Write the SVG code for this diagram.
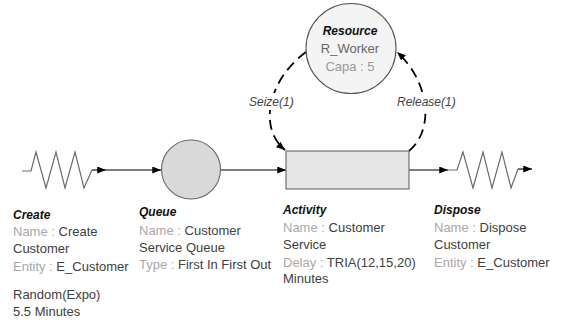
<svg xmlns="http://www.w3.org/2000/svg" width="561" height="327" viewBox="0 0 561 327">
<style>
text{font-family:"Liberation Sans",Arial,sans-serif;font-size:13px;fill:#404040}
.t{font-weight:bold;font-style:italic;font-size:12px;fill:#111}
.k{fill:#a8a8a8}
.lbl{font-style:italic;font-size:12px;fill:#444}
.zz{fill:none;stroke:#6a6a6a;stroke-width:1.2;stroke-linejoin:miter}
.ln{fill:none;stroke:#000;stroke-width:1.1}
.dash{fill:none;stroke:#000;stroke-width:1.8;stroke-dasharray:10 6}
</style>
<defs>
<marker id="ah" viewBox="0 0 10 8" refX="10" refY="4" markerWidth="9" markerHeight="7" markerUnits="userSpaceOnUse" orient="auto">
<path d="M0,0 L10,4 L0,8 z" fill="#000"/>
</marker>
</defs>
<g id="connectors">
<line class="ln" x1="106" y1="170" x2="161" y2="170" marker-end="url(#ah)"/>
<line class="ln" x1="220" y1="170" x2="286" y2="170" marker-end="url(#ah)"/>
<line class="ln" x1="409" y1="170" x2="448" y2="170" marker-end="url(#ah)"/>
<path class="dash" d="M306,52 C268,80 258,128 285,150" marker-end="url(#ah)"/>
<path class="dash" d="M409,151 C436,128 428,80 397,52" marker-end="url(#ah)"/>
<rect x="248" y="93" width="48" height="17" fill="#fff"/>
<text class="lbl" x="249" y="106">Seize(1)</text>
<rect x="396" y="93" width="61" height="17" fill="#fff"/>
<text class="lbl" x="397" y="106">Release(1)</text>
</g>
<g id="create">
<polyline class="zz" points="22,171 31,171 36,152 46,188 56,152 65,188 75,152 84,188 92,170"/>
<line class="ln" x1="92" y1="170" x2="106" y2="170" marker-end="url(#ah)"/>
<text class="t" x="13" y="219">Create</text>
<text x="13" y="235.5"><tspan class="k">Name : </tspan>Create</text>
<text x="13" y="253">Customer</text>
<text x="13" y="270.5"><tspan class="k">Entity : </tspan>E_Customer</text>
<text x="13" y="299">Random(Expo)</text>
<text x="13" y="316">5.5 Minutes</text>
</g>
<g id="queue">
<circle cx="191" cy="169.5" r="29.5" fill="#d9d9d9" stroke="#666" stroke-width="1.1"/>
<text class="t" x="139" y="216">Queue</text>
<text x="139" y="234.5"><tspan class="k">Name : </tspan>Customer</text>
<text x="139" y="251.5">Service Queue</text>
<text x="139" y="268.5"><tspan class="k">Type : </tspan>First In First Out</text>
</g>
<g id="resource">
<circle cx="351" cy="48.5" r="45" fill="#f4f4f4" stroke="#555" stroke-width="1.1"/>
<text class="t" x="350" y="35" text-anchor="middle">Resource</text>
<text x="350" y="53" text-anchor="middle" fill="#666" style="fill:#666">R_Worker</text>
<text x="350" y="71" text-anchor="middle" style="fill:#999">Capa : 5</text>
</g>
<g id="activity">
<rect x="286" y="151" width="123" height="38" fill="#e6e6e6" stroke="#666" stroke-width="1.1"/>
<text class="t" x="283" y="214">Activity</text>
<text x="283" y="231.5"><tspan class="k">Name : </tspan>Customer</text>
<text x="283" y="249">Service</text>
<text x="283" y="266.5"><tspan class="k">Delay : </tspan>TRIA(12,15,20)</text>
<text x="283" y="283">Minutes</text>
</g>
<g id="dispose">
<polyline class="zz" points="448,170 457,170 463,152 473,188 483,152 492,188 502,152 511,188 518,169"/>
<line class="ln" x1="518" y1="169" x2="532" y2="169" marker-end="url(#ah)"/>
<text class="t" x="434" y="213.5">Dispose</text>
<text x="434" y="231.5"><tspan class="k">Name : </tspan>Dispose</text>
<text x="434" y="249">Customer</text>
<text x="434" y="266.5"><tspan class="k">Entity : </tspan>E_Customer</text>
</g>
</svg>
